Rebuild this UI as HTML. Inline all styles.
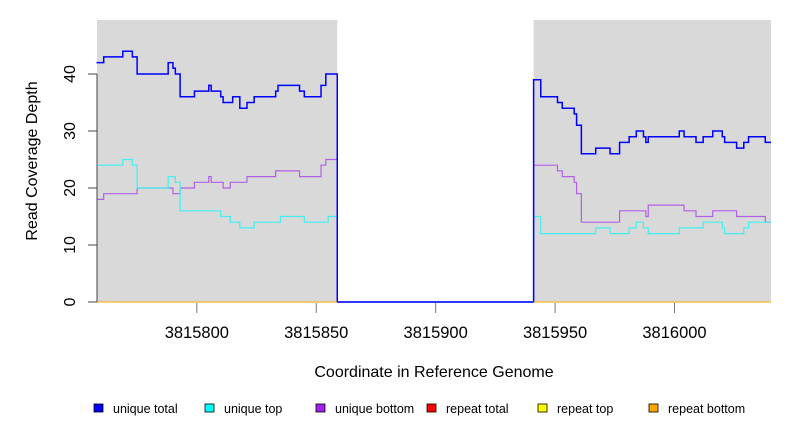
<!DOCTYPE html>
<html><head><meta charset="utf-8"><style>
body{margin:0;background:#fff}
svg{display:block;font-family:"Liberation Sans",sans-serif}
</style></head><body>
<svg id="c" width="792" height="432"></svg>
<script>
const xTicks=[3815800,3815850,3815900,3815950,3816000];
const yTicks=[0,10,20,30,40];
const xMin=3815758.2, xMax=3816040.4, gapStart=3815858.8, gapEnd=3815941;
const totPos=[3815758,3815761,3815769,3815773,3815775,3815788,3815790,3815791,3815793,3815799,3815805,3815806,3815810,3815811,3815815,3815818,3815821,3815824,3815833,3815834,3815843,3815845,3815852,3815854,3815941,3815944,3815951,3815953,3815958,3815959,3815961,3815967,3815973,3815977,3815981,3815984,3815987,3815988,3815989,3816002,3816004,3816009,3816012,3816016,3816020,3816021,3816026,3816029,3816031,3816038];
const totVal=[42,43,44,43,40,42,41,40,36,37,38,37,36,35,36,34,35,36,37,38,37,36,38,40,39,36,35,34,33,31,26,27,26,28,29,30,29,28,29,30,29,28,29,30,29,28,27,28,29,28];
const topPos=[3815758,3815769,3815773,3815775,3815788,3815791,3815793,3815810,3815814,3815818,3815824,3815835,3815845,3815855,3815941,3815944,3815967,3815973,3815981,3815984,3815987,3815989,3816002,3816012,3816020,3816021,3816029,3816031];
const topVal=[24,25,24,20,22,21,16,15,14,13,14,15,14,15,15,12,13,12,13,14,13,12,13,14,13,12,13,14];
const botPos=[3815758,3815761,3815775,3815790,3815793,3815799,3815805,3815806,3815811,3815814,3815821,3815833,3815843,3815852,3815854,3815941,3815951,3815953,3815958,3815959,3815961,3815977,3815988,3815989,3816004,3816009,3816016,3816026,3816038];
const botVal=[18,19,20,19,20,21,22,21,20,21,22,23,22,24,25,24,23,22,21,19,14,16,15,17,16,15,16,15,14];
const legendLabels=["unique total","unique top","unique bottom","repeat total","repeat top","repeat bottom"];
const legendColors=["#0000ff","#00ffff","#a020f0","#ff0000","#ffff00","#ffa500"];

const L=97,R=771,T=20,B=302;
const sx=v=>L+(v-xMin)/(xMax-xMin)*(R-L);
const sy=v=>302-v*5.7;
const svg=document.getElementById('c');
const NS='http://www.w3.org/2000/svg';
function mk(t,a,p){const e=document.createElementNS(NS,t);for(const k in a)e.setAttribute(k,a[k]);(p||svg).appendChild(e);return e;}

let e=mk('rect',{x:L,y:T,width:sx(gapStart)-L,height:B-T,fill:'#d9d9d9'});


e=mk('rect',{x:sx(gapEnd),y:T,width:R-sx(gapEnd),height:B-T,fill:'#d9d9d9'});



function stepPath(pos,val){
  let d='',prevEnd=null;
  for(let i=0;i<pos.length;i++){
    const s=pos[i];
    let end=(i+1<pos.length)?pos[i+1]:xMax;
    if(s<gapStart&&end>gapStart)end=gapStart;
    const y=sy(val[i]);
    if(d==='')d+='M'+sx(s)+','+y;
    else{
      if(prevEnd!==null&&prevEnd<s){d+='L'+sx(prevEnd)+','+sy(0)+'L'+sx(s)+','+sy(0);}
      d+='L'+sx(s)+','+y;
    }
    d+='L'+sx(end)+','+y;
    prevEnd=end;
  }
  return d;
}
const zeroD='M'+L+','+sy(0)+'L'+R+','+sy(0);
[["repeat-total-line","#ff0000"],["repeat-top-line","#ffff00"]].forEach(([n,c])=>{
  const p=mk('path',{d:zeroD,stroke:c,fill:'none','stroke-width':1});
  
  
});
e=mk('path',{d:stepPath(botPos,botVal),stroke:'#b060e8',fill:'none','stroke-width':1.2});


e=mk('path',{d:stepPath(topPos,topVal),stroke:'#40f0f0',fill:'none','stroke-width':1.2});


e=mk('path',{d:stepPath(totPos,totVal),stroke:'#0000ff',fill:'none','stroke-width':1.5});


e=mk('path',{d:'M'+L+','+sy(0)+'L'+sx(gapStart)+','+sy(0)+'M'+sx(gapEnd)+','+sy(0)+'L'+R+','+sy(0),stroke:'#ffa500',fill:'none','stroke-width':1});



e=mk('line',{x1:L,y1:sy(0),x2:L,y2:sy(40),stroke:'#444'});


yTicks.forEach(v=>{
  const t=mk('line',{x1:88,y1:sy(v),x2:L,y2:sy(v),stroke:'#444'});
  
  
  const l=mk('text',{x:0,y:0,transform:`translate(75,${sy(v)}) rotate(-90)`,'text-anchor':'middle','font-size':16});
  l.textContent=v;
  
  
});
xTicks.forEach(v=>{
  const t=mk('line',{x1:sx(v),y1:303,x2:sx(v),y2:313,stroke:'#777'});
  
  
  const l=mk('text',{x:sx(v),y:338,'text-anchor':'middle','font-size':16.5});
  l.textContent=v;
  
  
});
e=mk('text',{x:0,y:0,transform:'translate(37,161) rotate(-90)','text-anchor':'middle','font-size':16});
e.textContent='Read Coverage Depth';


e=mk('text',{x:434,y:377,'text-anchor':'middle','font-size':16});
e.textContent='Coordinate in Reference Genome';



const legX=[94,205,316,427,538,649];
legendLabels.forEach((lab,i)=>{
  const g=mk('g',{});
  
  
  mk('rect',{x:legX[i],y:404,width:9,height:8,fill:legendColors[i],stroke:'#000','stroke-width':0.8},g);
  const t=mk('text',{x:legX[i]+19,y:413,'font-size':12.5},g);
  t.textContent=lab;
});
</script>
</body></html>
